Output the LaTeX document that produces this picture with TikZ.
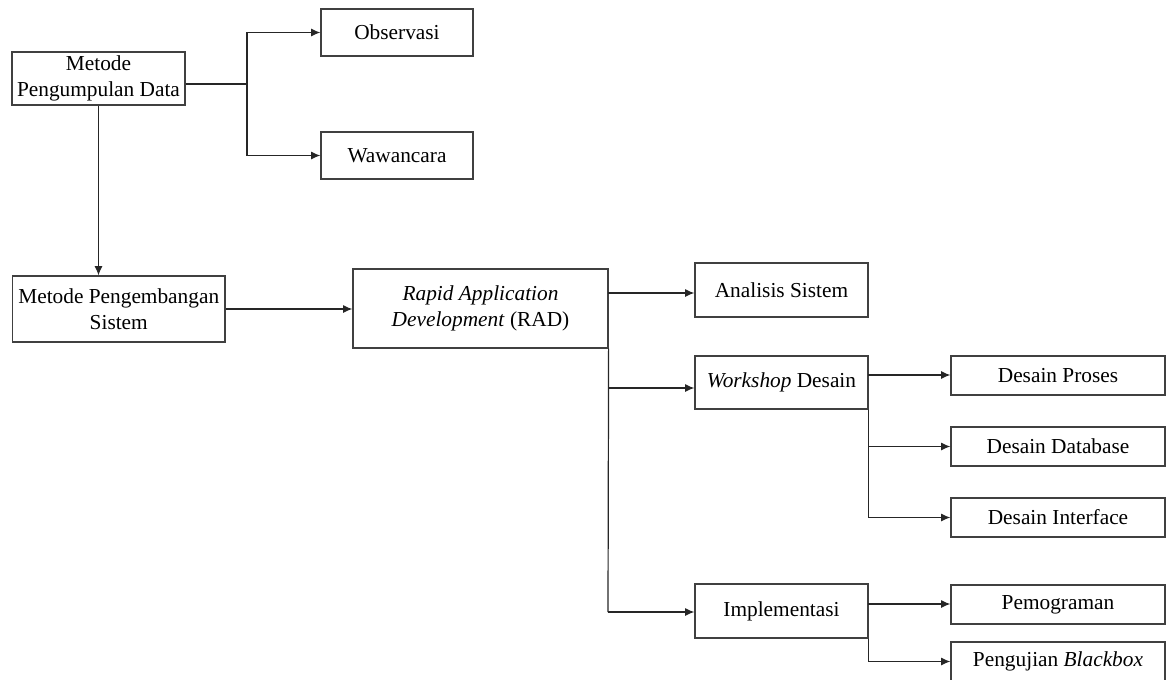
\documentclass[tikz,border=0pt]{standalone}
\usepackage{fontspec}
\setmainfont{Liberation Serif}
\usetikzlibrary{arrows.meta}
\begin{document}
\begin{tikzpicture}[x=0.75pt,y=-0.75pt,
  box/.style={draw=black!75,line width=0.9pt,fill=white,inner sep=0pt,
    align=center,font=\fontsize{16}{19.5}\selectfont},
  lowbox/.style={box,text depth=2pt},
  arr/.style={draw=black!85,line width=0.9pt,-{Latex[length=7pt,width=6pt]}},
  ln/.style={draw=black!85,line width=0.9pt}]
\useasboundingbox (0,0) rectangle (1168,679);

% boxes (centre, size)
\node[box,minimum width=129.75pt,minimum height=39.75pt] (mpd) at (98.5,78.5) {Metode\\Pengumpulan Data};
\node[box,minimum width=114pt,minimum height=35.25pt] (obs) at (397,32.5) {Observasi};
\node[box,minimum width=114pt,minimum height=35.25pt] (waw) at (397,155.5) {Wawancara};
\node[box,minimum width=159.4pt,minimum height=49.5pt] (mps) at (118.75,309) {Metode Pengembangan\\Sistem};
\node[box,minimum width=191.25pt,minimum height=59.25pt] (rad) at (480.5,308.5) {\itshape Rapid Application\\\itshape Development\/ \upshape (RAD)};
\node[box,minimum width=129.75pt,minimum height=40.5pt] (ana) at (781.5,290) {Analisis Sistem};
\node[box,minimum width=129.75pt,minimum height=39.75pt] (wks) at (781.5,382.5) {\itshape Workshop\/ \upshape Desain};
\node[box,minimum width=129.75pt,minimum height=40.5pt] (imp) at (781.5,611) {Implementasi};
\node[box,minimum width=160.5pt,minimum height=29.25pt] (dpr) at (1058,375.5) {Desain Proses};
\node[box,minimum width=160.5pt,minimum height=29.25pt] (ddb) at (1058,446.5) {Desain Database};
\node[box,minimum width=160.5pt,minimum height=29.25pt] (dif) at (1058,517.5) {Desain Interface};
\node[box,minimum width=160.5pt,minimum height=29.25pt] (pem) at (1058,604.5) {Pemograman};
\node[box,minimum width=160.5pt,minimum height=29.25pt] (pbb) at (1058,661.5) {Pengujian \itshape Blackbox};

% branch points
\coordinate (j1) at (247,84);
\coordinate (ja) at (608,293);
\coordinate (jw) at (608,388);
\coordinate (ji) at (608,612);
\coordinate (kp) at (868,375);
\coordinate (ip) at (868,604);

% data collection
\draw[ln] (j1 -| mpd.east) -- (j1);
\draw[arr] (j1) |- (obs.west);
\draw[arr] (j1) |- (waw.west);
\draw[arr] (mpd.south) -- (mpd.south |- mps.north);

% development method
\draw[arr] (mps.east) -- (mps.east -| rad.west);
\draw[arr] (ja) -- (ja -| ana.west);
\draw[ln] (rad.south east) -- (ji);
\draw[arr] (jw) -- (jw -| wks.west);
\draw[arr] (ji) -- (ji -| imp.west);

% design workshop
\draw[arr] (kp) -- (kp -| dpr.west);
\draw[arr] (wks.south east) |- (ddb.west);
\draw[arr] (wks.south east) |- (dif.west);

% implementation
\draw[arr] (ip) -- (ip -| pem.west);
\draw[arr] (imp.south east) |- (pbb.west);
\end{tikzpicture}
\end{document}
